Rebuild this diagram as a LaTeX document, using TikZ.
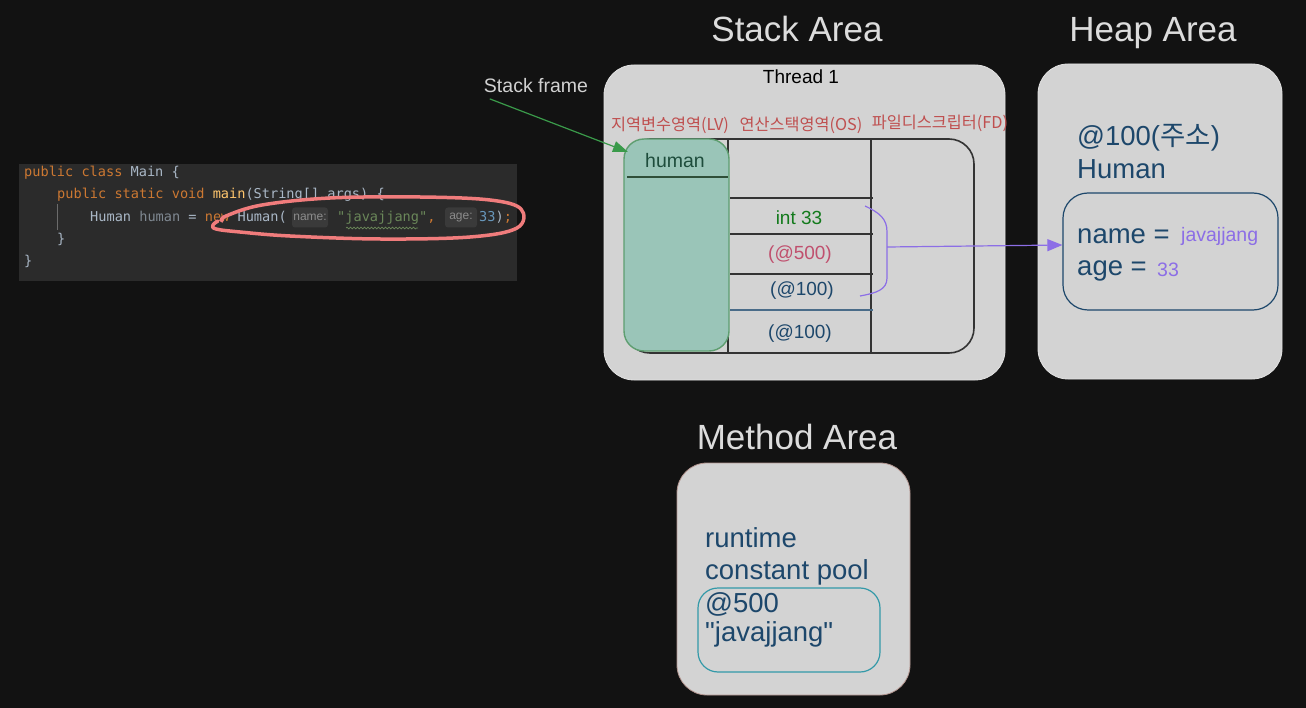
\documentclass[tikz,border=0pt]{standalone}
\usepackage{fontspec}
\setmainfont[Ligatures=TeXOff]{Liberation Sans}
\newfontfamily\krfont{Noto Sans CJK KR}
\newfontfamily\codefont[Ligatures=TeXOff]{DejaVu Sans Mono}
\usetikzlibrary{arrows.meta,decorations.pathmorphing}
\definecolor{bgc}{HTML}{121212}
\definecolor{codebg}{HTML}{2B2B2B}
\definecolor{panelc}{HTML}{D3D3D3}
\definecolor{panelb}{HTML}{E2E2E2}
\definecolor{titlec}{HTML}{DCDCDC}
\definecolor{labred}{HTML}{BF4F4F}
\definecolor{lvfill}{HTML}{9AC5B8}
\definecolor{lvdraw}{HTML}{5E9E70}
\definecolor{humanc}{HTML}{1E4D3C}
\definecolor{intc}{HTML}{137A1C}
\definecolor{pinkc}{HTML}{C0506E}
\definecolor{navy}{HTML}{1D476B}
\definecolor{purp}{HTML}{8C6EE6}
\definecolor{lined}{HTML}{333333}
\definecolor{methb}{HTML}{B3958F}
\definecolor{tealc}{HTML}{3399A8}
\definecolor{sfgreen}{HTML}{3A9A4A}
\definecolor{kw}{HTML}{CC7832}
\definecolor{idc}{HTML}{A9B7C6}
\definecolor{mth}{HTML}{FFC66D}
\definecolor{varc}{HTML}{7F8891}
\definecolor{strc}{HTML}{6A8759}
\definecolor{numc}{HTML}{6897BB}
\definecolor{hintbg}{HTML}{3A3A3A}
\definecolor{hintc}{HTML}{8C8C8C}
\definecolor{markc}{HTML}{F07C7C}
\begin{document}
\begin{tikzpicture}[x=1pt,y=-1pt,
  panel/.style={draw=panelb, fill=panelc, rounded corners=30pt, line width=0.8pt, inner sep=0pt},
  title/.style={text=titlec, font=\fontsize{35}{40}\selectfont, inner sep=0pt, anchor=base},
  krlab/.style={text=labred, font=\krfont\fontsize{16.3}{18}\selectfont, inner sep=0pt, anchor=base},
  cell/.style={font=\fontsize{19}{22}\selectfont, inner sep=0pt, anchor=base},
  big/.style={text=navy, font=\fontsize{27.5}{32}\selectfont, inner sep=0pt, anchor=base west},
  small/.style={text=purp, font=\fontsize{19.5}{22}\selectfont, inner sep=0pt, anchor=base west},
  code/.style={font=\codefont\fontsize{13.6}{16}\selectfont, inner sep=0pt, anchor=base west},
  hint/.style={fill=hintbg, rounded corners=3pt, text=hintc, font=\fontsize{12}{13}\selectfont, inner sep=0pt},
  sep/.style={draw=lined, line width=1.6pt},
  purpline/.style={draw=purp, line width=1.2pt}
]
\fill[bgc] (0,0) rectangle (1306,708);
\useasboundingbox (0,0) rectangle (1306,708);

% ---------- code snippet ----------
\fill[codebg] (19,164) rectangle (517,281);
\draw[codebg!70!white, line width=0.6pt] (57,204) -- (57,230);
\node[code] (c1) at (24,177) {{\color{kw}public class }{\color{idc}Main \{}};
\node[code] (c2) at (57,199) {{\color{kw}public static void }{\color{mth}main}{\color{idc}(String[] args) \{}};
\node[code] (c3) at (90,222) {{\color{idc}Human }{\color{varc}human }{\color{idc}= }{\color{kw}new }{\color{idc}Human(}};
\node[hint, minimum width=36pt, minimum height=20pt] (h1) at (310,217.5) {name:};
\node[code] (c3b) at (337,222) {{\color{strc}"javajjang"}{\color{kw},}};
\draw[strc, line width=0.7pt, decorate, decoration={snake, amplitude=0.9pt, segment length=3.5pt}] (346,228) -- (418,228);
\node[hint, minimum width=32pt, minimum height=20pt] (h2) at (461,217.5) {age:};
\node[code] (c3c) at (479,222) {{\color{numc}33}{\color{idc})}{\color{kw};}};
\node[code] (c4) at (57,244) {{\color{idc}\}}};
\node[code] (c5) at (24,266) {{\color{idc}\}}};
\draw[markc, line width=3.5pt, line cap=round, line join=round]
  plot[smooth, tension=0.6] coordinates {(222,221) (226,216) (262,205) (330,198) (420,197) (490,200) (521,209) (517,228) (470,237) (380,239) (290,236) (240,232) (216,229) (213,225) (218,221)};

% ---------- titles ----------
\node[title] (tstack) at (797,42) {Stack Area};
\node[title] (theap) at (1153,42) {Heap Area};
\node[title] (tmeth) at (797,449) {Method Area};

% ---------- stack area ----------
\node[panel, minimum width=401pt, minimum height=315pt] (stack) at (804.5,222.5) {};
\node[font=\fontsize{19}{22}\selectfont, inner sep=0pt, anchor=base] (thread) at (801,84) {Thread 1};
\node[krlab] (lvl) at (670,131) {지역변수영역(LV)};
\node[krlab] (osl) at (801,131) {연산스택영역(OS)};
\node[krlab] (fdl) at (940,129) {파일디스크립터(FD)};
\node[draw=lined, line width=1.6pt, fill=panelc, rounded corners=25pt, minimum width=349pt, minimum height=214pt] (frame) at (799.5,246) {};
\draw[sep] (728,139) -- (728,353);
\draw[sep] (871,139) -- (871,353);
\draw[sep] (730,198) -- (873,198);
\draw[sep] (730,234) -- (873,234);
\draw[sep] (730,274) -- (873,274);
\draw[draw=navy!80, line width=1.6pt] (730,310) -- (873,310);
\node[fill=lvfill, draw=lvdraw, line width=1.4pt, rounded corners=20pt, minimum width=105pt, minimum height=212pt, inner sep=0pt] (lv) at (676.5,245) {};
\draw[lvdraw!50!black, line width=1.4pt] (627,177) -- (728,177);
\node[cell, text=humanc, font=\fontsize{19.5}{22}\selectfont] (human) at (675,167.5) {human};
\node[cell, text=intc] (int33) at (799,224.5) {int 33};
\node[cell, text=pinkc] (at500) at (800,260) {(@500)};
\node[cell, text=navy] (at100a) at (802,295.5) {(@100)};
\node[cell, text=navy] (at100b) at (800,339) {(@100)};

% stack frame label + arrow
\node[text=titlec!95!black, font=\fontsize{19.5}{22}\selectfont, inner sep=0pt, anchor=base] (sf) at (536,92.5) {Stack frame};
\coordinate (lvtip) at (628,152);
\draw[sfgreen, line width=1.2pt, -{Triangle[length=15pt,width=11pt]}] ([shift={(6pt,-6pt)}]sf.south west) -- (lvtip);

% ---------- heap area ----------
\node[panel, minimum width=244pt, minimum height=315pt] (heap) at (1160,221.5) {};
\node[big] (addr) at (1077,146) {@100({\krfont 주소})};
\node[big] (hcls) at (1077,179) {Human};
\node[draw=navy, line width=1.2pt, rounded corners=25pt, minimum width=215pt, minimum height=117pt, inner sep=0pt] (hin) at (1170.5,251.5) {};
\node[big] (namek) at (1077,244) {name =};
\node[small] (namev) at (1181,241.5) {javajjang};
\node[big] (agek) at (1077,276) {age =};
\node[small] (agev) at (1157,277) {33};

% bracket + reference arrow
\draw[purpline] (865,206) .. controls (880,213) and (887,219) .. (887,232) -- (887,278) .. controls (887,290) and (876,293) .. (860,296);
\coordinate (br) at (887,247);
\draw[purpline, -{Triangle[length=15pt,width=12pt]}] (br) -- ([yshift=6.5pt]hin.west);

% ---------- method area ----------
\node[panel, draw=methb, minimum width=233pt, minimum height=232pt] (meth) at (793.5,579) {};
\node[draw=tealc, line width=1.2pt, rounded corners=20pt, minimum width=182pt, minimum height=84pt, inner sep=0pt] (pool) at (789,630) {};
\node[big] (rt) at (705,547) {runtime};
\node[big] (cp) at (705,579) {constant pool};
\node[big] (a500) at (705,612) {@500};
\node[big] (jv) at (705,641) {"javajjang"};
\end{tikzpicture}
\end{document}
